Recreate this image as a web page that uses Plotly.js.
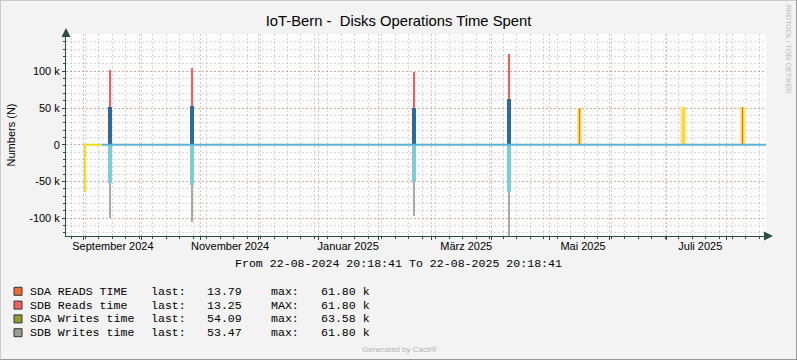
<!DOCTYPE html>
<html>
<head>
<meta charset="utf-8">
<script src="https://cdn.plot.ly/plotly-3.0.1.min.js"></script>
<style>
  html, body { margin: 0; padding: 0; background: #F3F3F3; }
  #wrap { position: relative; width: 797px; height: 360px; }
  #chart { width: 797px; height: 360px; }
  #frame { position: absolute; left: 0; top: 0; width: 797px; height: 360px; box-sizing: border-box;
           border-top: 1px solid #CBCBCB; border-left: 1px solid #CBCBCB;
           border-bottom: 1px solid #999999; border-right: 1px solid #999999; pointer-events: none; }
</style>
</head>
<body>
<div id="wrap"><div id="chart"></div><div id="frame"></div></div>
<script>
// ---------------- data ----------------
const xRange = ['2024-08-23 00:29', '2025-08-21 09:36'];

// main spikes (reads positive, writes negative)
const spikeDates = ['2024-09-14 17:00', '2024-10-27 10:30', '2025-02-19 19:00', '2025-04-09 21:30'];
const sdaReads  = [51000, 52800, 50000, 61800];
const sdbReads  = [50800, 51700, 49500, 61800];
const sdaWrites = [51600, 54700, 50200, 63580];
const sdbWrites = [47600, 49900, 46300, 61800];

// small yellow/orange spikes
const smallDates  = ['2025-05-16 12:00', '2025-07-09 10:00', '2025-08-09 10:00'];
const smallVals   = [49700, 50800, 50800];
const smallCore   = [49700, null, 50800];

// first yellow trace segment (SDA writes at start)
const startLineX = ['2024-09-01 22:00', '2024-09-01 22:00', '2024-09-10 13:00'];
const startLineY = [-65000, 0, 0];

// idle baseline
const baseX = ['2024-09-10 13:00', '2025-08-21 08:30'];
const baseY = [0, 0];

// axis labels
const xLabelDates = ['2024-09-16 09:00', '2024-11-16 05:00', '2025-01-16 12:00', '2025-03-18 19:00', '2025-05-18 10:00', '2025-07-18 07:00'];
const xLabelText  = ['September 2024', 'November 2024', 'Januar 2025', 'März 2025', 'Mai 2025', 'Juli 2025'];
const yTickVals = [-100000, -50000, 0, 50000, 100000];
const yTickText = ['-100 k', '-50 k', '0', '50 k', '100 k'];

// legend
const legendNames = ['SDA READS TIME', 'SDB Reads time', 'SDA Writes time', 'SDB Writes time'];
const legendColors = ['#F26A33', '#F76060', '#999933', '#9C9E92'];
const lastVals = ['13.79', '13.25', '54.09', '53.47'];
const maxLabels = ['max:', 'MAX:', 'max:', 'max:'];
const maxVals = ['61.80 k', '61.80 k', '63.58 k', '61.80 k'];

// ---------------- layout helpers ----------------
const W = 797, H = 360;
const L = 66, R = 766, T = 34, B = 236;
const pw = R - L, ph = B - T;
const px = v => (v - L) / pw;
const py = v => (B - v) / ph;
const DAY = 86400000;
const axisColor = '#2C4D43';
const mono = 'Liberation Mono, DejaVu Sans Mono, monospace';
const sans = 'Liberation Sans, Arial, sans-serif';

const traces = [
  // reads (positive)
  { type: 'bar', name: 'SDA READS TIME', x: spikeDates, y: sdaReads, width: 2.1 * DAY,
    marker: { color: '#2F6A98', line: { width: 0 } } },
  { type: 'bar', name: 'SDB Reads time', x: spikeDates, y: sdbReads, base: sdaReads, width: 1.05 * DAY,
    marker: { color: '#F75C5C', line: { width: 0 } } },
  // writes (negative)
  { type: 'bar', name: 'SDA Writes time', x: spikeDates, y: sdaWrites.map(v => -v), width: 2.1 * DAY,
    marker: { color: '#80CBD8', line: { width: 0 } } },
  { type: 'bar', name: 'SDB Writes time', x: spikeDates, y: sdbWrites.map(v => -v), base: sdaWrites.map(v => -v), width: 1.05 * DAY,
    marker: { color: '#A9A9A1', line: { width: 0 } } },
  // small spikes: glow + body + core
  { type: 'bar', x: smallDates, y: smallVals, width: 2.9 * DAY,
    marker: { color: '#FFF08C', line: { width: 0 } } },
  { type: 'bar', x: smallDates, y: smallVals, width: 1.6 * DAY,
    marker: { color: '#FFD34E', line: { width: 0 } } },
  { type: 'bar', x: smallDates, y: smallCore, width: 0.6 * DAY,
    marker: { color: '#EE6A3A', line: { width: 0 } } },
  // start yellow segment
  { type: 'scatter', mode: 'lines', x: startLineX, y: startLineY,
    line: { color: '#EEDC1E', width: 2 } },
  // idle baseline
  { type: 'scatter', mode: 'lines', x: baseX, y: baseY,
    line: { color: '#5DB3D5', width: 2 } },
  // carrier for the label axis (draws nothing)
  { type: 'scatter', mode: 'lines', x: xRange, y: [null, null], xaxis: 'x2', yaxis: 'y', hoverinfo: 'skip' }
];

const gridRed = 'rgba(215,115,115,0.45)';
const gridGray = 'rgba(165,165,165,0.42)';
const dash = '2px,2px';

const annotations = [];
const shapes = [];

// axis arrows
annotations.push({ xref: 'paper', yref: 'paper', x: px(66), y: py(28), ax: 0, ay: 9, text: '',
  showarrow: true, arrowhead: 2, arrowsize: 1.8, arrowwidth: 1, arrowcolor: axisColor });
annotations.push({ xref: 'paper', yref: 'paper', x: px(773), y: py(236), ax: -9, ay: 0, text: '',
  showarrow: true, arrowhead: 2, arrowsize: 1.8, arrowwidth: 1, arrowcolor: axisColor });

// date range line
annotations.push({ xref: 'paper', yref: 'paper', x: px(398), y: py(263), xanchor: 'center', yanchor: 'middle',
  showarrow: false, text: 'From 22-08-2024 20:18:41 To 22-08-2025 20:18:41',
  font: { family: mono, size: 11.6, color: '#000' } });

// legend
const cols = [27.6, 148.5, 204.8, 269.1, 318.5];
legendNames.forEach((nm, i) => {
  const yy = 291.3 + i * 13.8;
  const parts = [nm, 'last:', lastVals[i], maxLabels[i], maxVals[i]];
  parts.forEach((t, j) => {
    annotations.push({ xref: 'paper', yref: 'paper', x: px(cols[j]), y: py(yy), xanchor: 'left', yanchor: 'middle',
      showarrow: false, text: t, font: { family: mono, size: 11.6, color: '#000' } });
  });
  shapes.push({ type: 'rect', xref: 'paper', yref: 'paper', x0: px(14), x1: px(22), y0: py(yy + 4), y1: py(yy - 4),
    fillcolor: legendColors[i], line: { color: '#2C3A33', width: 1 } });
});

// watermarks
annotations.push({ xref: 'paper', yref: 'paper', x: px(399), y: py(349), xanchor: 'center', yanchor: 'middle',
  showarrow: false, text: 'Generated by Cacti®', font: { family: sans, size: 8, color: '#B4B4B4' } });
annotations.push({ xref: 'paper', yref: 'paper', x: px(788), y: py(49), xanchor: 'center', yanchor: 'middle',
  showarrow: false, textangle: 90, text: 'RRDTOOL / TOBI OETIKER', font: { family: sans, size: 7, color: '#BDBDBD' } });

const layout = {
  width: W, height: H,
  margin: { l: L, r: W - R, t: T, b: H - B, pad: 0 },
  paper_bgcolor: '#F3F3F3', plot_bgcolor: '#FDFDFD',
  showlegend: false, barmode: 'overlay', bargap: 0,
  title: { text: 'IoT-Bern -  Disks Operations Time Spent', xref: 'container', yref: 'container',
    x: 0.5, y: 1 - 21 / H, xanchor: 'center', yanchor: 'middle',
    font: { family: sans, size: 14.8, color: '#000' } },
  xaxis: {
    type: 'date', range: xRange, fixedrange: true,
    showticklabels: false, showgrid: true, gridcolor: gridRed, griddash: dash, gridwidth: 1,
    tick0: '2024-09-01', dtick: 'M1', ticks: 'outside', ticklen: 3, tickcolor: axisColor,
    showline: true, linecolor: axisColor, linewidth: 1, zeroline: false,
    minor: { tick0: '2024-08-26', dtick: 7 * DAY, showgrid: true, gridcolor: gridGray, griddash: dash,
      ticks: 'outside', ticklen: 2, tickcolor: axisColor }
  },
  xaxis2: {
    type: 'date', range: xRange, overlaying: 'x', anchor: 'y', side: 'bottom', fixedrange: true,
    tickmode: 'array', tickvals: xLabelDates, ticktext: xLabelText,
    showgrid: false, zeroline: false, showline: false, ticks: '', ticklabelstandoff: 2,
    tickfont: { family: sans, size: 11, color: '#000' }
  },
  yaxis: {
    range: [-124100, 150700], fixedrange: true,
    tickmode: 'array', tickvals: yTickVals, ticktext: yTickText,
    tickfont: { family: sans, size: 11, color: '#000' },
    showgrid: true, gridcolor: gridRed, griddash: dash, gridwidth: 1,
    ticks: 'outside', ticklen: 3, tickcolor: axisColor,
    showline: true, linecolor: axisColor, linewidth: 1, zeroline: false,
    minor: { tick0: 0, dtick: 10000, showgrid: true, gridcolor: gridGray, griddash: dash,
      ticks: 'outside', ticklen: 2, tickcolor: axisColor },
    title: { text: 'Numbers (N)', standoff: 11, font: { family: sans, size: 11, color: '#000' } }
  },
  annotations: annotations,
  shapes: shapes
};

Plotly.newPlot('chart', traces, layout, { staticPlot: true });
</script>
</body>
</html>
